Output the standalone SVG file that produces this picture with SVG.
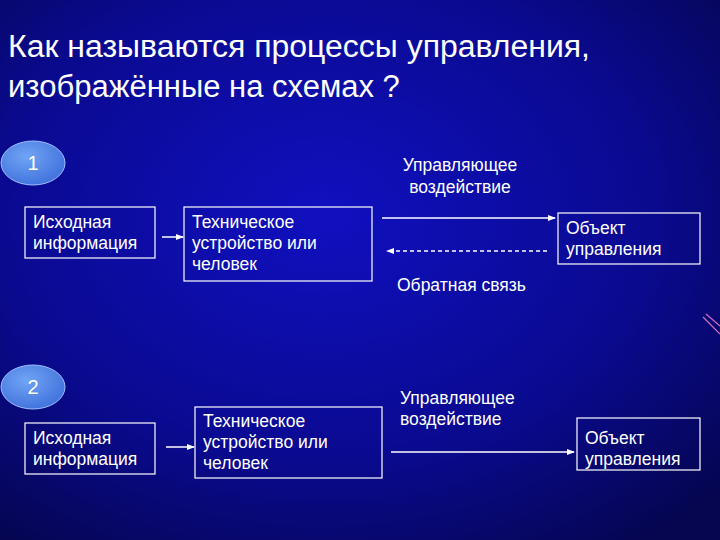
<svg xmlns="http://www.w3.org/2000/svg" width="720" height="540" viewBox="0 0 720 540">
<style>
text{font-family:"Liberation Sans",Arial,sans-serif;fill:#fff}
.t{font-size:17.5px}
.b{fill:none;stroke:#fff;stroke-width:1.2}
.c{stroke:#fff;stroke-width:1.5;fill:none}
</style>
<defs>
<radialGradient id="bg" cx="0.45" cy="0.4" r="0.75">
<stop offset="0" stop-color="#1010c0"/><stop offset="0.6" stop-color="#0a0a90"/><stop offset="1" stop-color="#050550"/>
</radialGradient>
<radialGradient id="el" cx="0.4" cy="0.35" r="0.7"><stop offset="0" stop-color="#70a4f4"/><stop offset="1" stop-color="#4070dc"/></radialGradient>
<marker id="a" markerWidth="8" markerHeight="8" refX="7" refY="4" orient="auto" markerUnits="userSpaceOnUse"><path d="M0,1 L8,4 L0,7 z" fill="#fff"/></marker>
</defs>
<rect width="720" height="540" fill="url(#bg)"/>
<path d="M703,317 L720,334 M706,314 L720,326" stroke="#d070c0" stroke-width="1.2"/>
<text x="8" y="57" font-size="31" textLength="582" lengthAdjust="spacingAndGlyphs">Как называются процессы управления,</text>
<text x="8" y="97" font-size="31">изображённые на схемах ?</text>
<g id="n1"><ellipse cx="33" cy="163" rx="32" ry="22" fill="url(#el)" stroke="#a0c0ff"/><text x="33" y="170" font-size="20" text-anchor="middle">1</text></g>
<g id="n2"><ellipse cx="33" cy="387" rx="32" ry="22" fill="url(#el)" stroke="#a0c0ff"/><text x="33" y="394" font-size="20" text-anchor="middle">2</text></g>
<g id="b1"><rect class="b" x="25" y="207" width="130" height="51"/><text class="t" x="33" y="228">Исходная</text><text class="t" x="33" y="249">информация</text></g>
<g id="b2"><rect class="b" x="184" y="207" width="188" height="74"/><text class="t" x="192" y="228">Техническое</text><text class="t" x="192" y="249">устройство или</text><text class="t" x="192" y="270">человек</text></g>
<g id="b3"><rect class="b" x="558" y="213" width="142" height="51"/><text class="t" x="566" y="234">Объект</text><text class="t" x="566" y="255">управления</text></g>
<g id="b4"><rect class="b" x="25" y="423" width="130" height="51"/><text class="t" x="33" y="444">Исходная</text><text class="t" x="33" y="465">информация</text></g>
<g id="b5"><rect class="b" x="195" y="407" width="187" height="71"/><text class="t" x="203" y="427">Техническое</text><text class="t" x="203" y="448">устройство или</text><text class="t" x="203" y="469">человек</text></g>
<g id="b6"><rect class="b" x="577" y="418" width="123" height="52"/><text class="t" x="585" y="444">Объект</text><text class="t" x="585" y="465">управления</text></g>
<g id="labels">
<text class="t" x="460" y="171" text-anchor="middle">Управляющее</text>
<text class="t" x="460" y="193" text-anchor="middle">воздействие</text>
<text class="t" x="397" y="291">Обратная связь</text>
<text class="t" x="400" y="404">Управляющее</text>
<text class="t" x="400" y="425">воздействие</text>
</g>
<g id="connectors">
<line class="c" x1="162" y1="237" x2="183" y2="237" marker-end="url(#a)"/>
<line class="c" x1="382" y1="218" x2="555" y2="218" marker-end="url(#a)"/>
<line class="c" x1="547" y1="251" x2="387" y2="251" stroke-dasharray="4,3" marker-end="url(#a)"/>
<line class="c" x1="166" y1="447" x2="194" y2="447" marker-end="url(#a)"/>
<line class="c" x1="391" y1="452" x2="574" y2="452" marker-end="url(#a)"/>
</g>
</svg>
